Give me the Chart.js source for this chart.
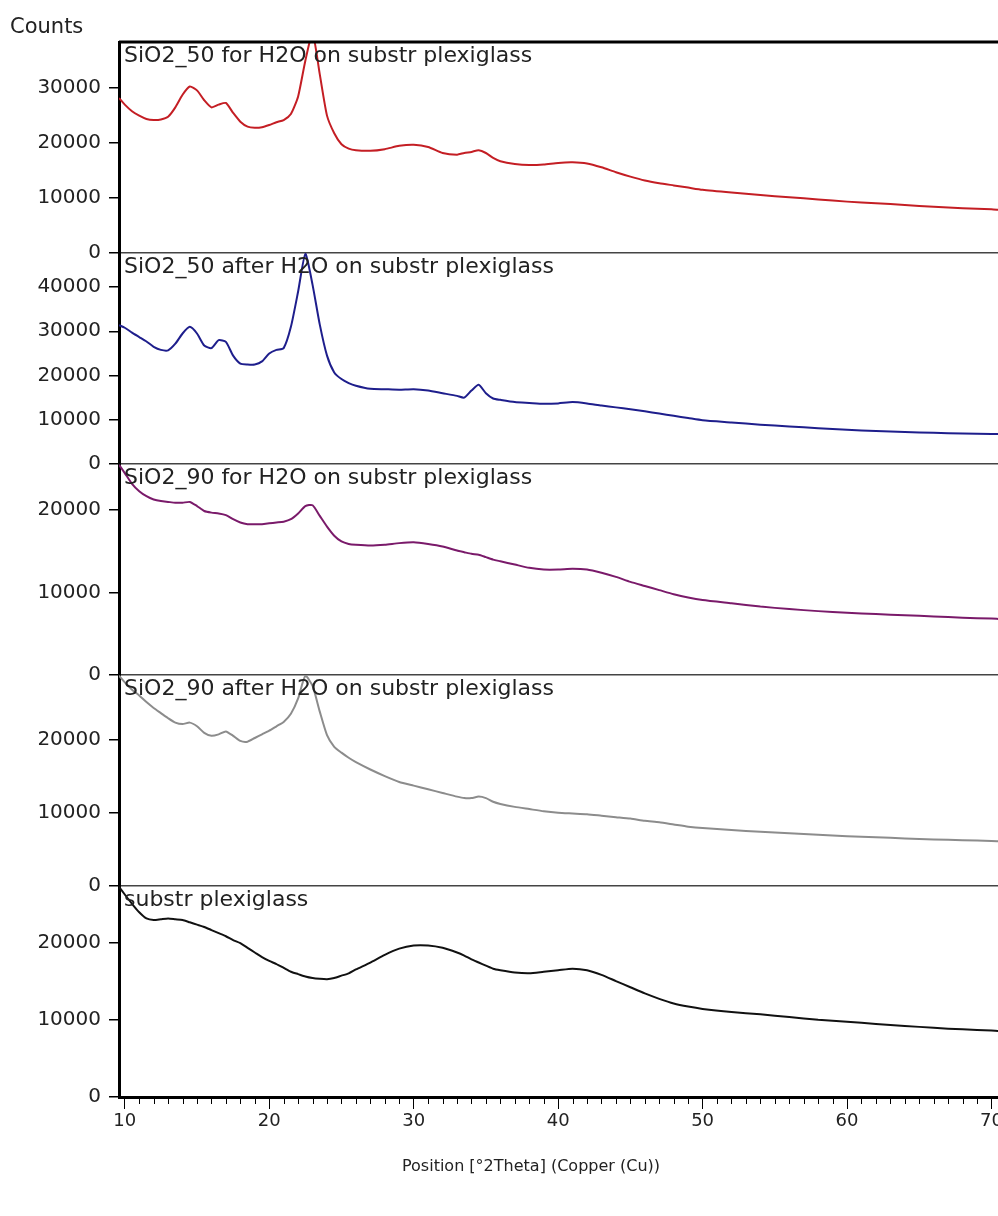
<!DOCTYPE html>
<html>
<head>
<meta charset="utf-8">
<script src="https://cdn.jsdelivr.net/npm/chart.js@4.4.1/dist/chart.umd.min.js"></script>
<style>
  html, body { margin: 0; padding: 0; background: #fff; }
  #grafica { display: block; }
</style>
</head>
<body>
<canvas id="grafica" width="998" height="1216"></canvas>
<script>
// --- DATOS ---
const posiciones = [9.6, 10, 10.5, 11, 11.5, 12, 12.5, 13, 13.5, 14, 14.5, 15, 15.5, 16, 16.5, 17, 17.5, 18, 18.5, 19, 19.5, 20, 20.5, 21, 21.5, 22, 22.5, 23, 23.5, 24, 24.5, 25, 25.5, 26, 27, 28, 29, 30, 31, 32, 33, 33.5, 34, 34.5, 35, 35.5, 36, 37, 38, 39, 40, 41, 42, 43, 44, 45, 46, 47, 48, 49, 50, 52, 54, 56, 58, 60, 62, 64, 66, 68, 70, 70.5];

const sio2_50_for = [28200, 27000, 25800, 25000, 24400, 24200, 24300, 24800, 26500, 28800, 30300, 29600, 27800, 26500, 27000, 27300, 25500, 23900, 23000, 22800, 22900, 23300, 23800, 24200, 25300, 28500, 35000, 40000, 32500, 25000, 21800, 19800, 19000, 18700, 18600, 18900, 19500, 19700, 19300, 18200, 17900, 18200, 18400, 18700, 18200, 17300, 16700, 16200, 16000, 16100, 16400, 16500, 16300, 15600, 14700, 13900, 13200, 12700, 12300, 11900, 11500, 11000, 10550, 10150, 9750, 9350, 9050, 8750, 8400, 8150, 7950, 7850];

const sio2_50_after = [31400, 30800, 29700, 28700, 27700, 26500, 25800, 25700, 27200, 29500, 31000, 29500, 26800, 26200, 28000, 27600, 24500, 22700, 22500, 22500, 23200, 25000, 25800, 26200, 31000, 39000, 47500, 40500, 31500, 24500, 20700, 19200, 18300, 17700, 17000, 16900, 16800, 16900, 16600, 16000, 15400, 15000, 16600, 17900, 16000, 14800, 14500, 14000, 13800, 13600, 13700, 14000, 13700, 13200, 12800, 12400, 11900, 11400, 10900, 10400, 9900, 9400, 8900, 8500, 8100, 7750, 7450, 7250, 7050, 6900, 6800, 6750];

const sio2_90_for = [25500, 24500, 23200, 22300, 21700, 21300, 21100, 21000, 20900, 20900, 21000, 20500, 19900, 19700, 19600, 19400, 18900, 18500, 18300, 18300, 18300, 18400, 18500, 18600, 18900, 19600, 20500, 20600, 19300, 18000, 16900, 16200, 15900, 15800, 15700, 15800, 16000, 16100, 15900, 15600, 15100, 14900, 14700, 14600, 14300, 14000, 13800, 13400, 13000, 12800, 12800, 12900, 12800, 12400, 11900, 11300, 10800, 10300, 9800, 9400, 9100, 8700, 8300, 8000, 7750, 7550, 7400, 7250, 7100, 6950, 6850, 6800];

const sio2_90_after = [28700, 27800, 26800, 26000, 25100, 24300, 23600, 22900, 22300, 22100, 22300, 21800, 20900, 20500, 20700, 21100, 20500, 19800, 19700, 20200, 20700, 21200, 21800, 22400, 23500, 25600, 28700, 27300, 23800, 20600, 19000, 18200, 17500, 16900, 15900, 15000, 14200, 13700, 13200, 12700, 12200, 12000, 12000, 12200, 12000, 11500, 11200, 10800, 10500, 10200, 10000, 9900, 9800, 9600, 9400, 9200, 8900, 8700, 8400, 8100, 7900, 7650, 7400, 7200, 7000, 6800, 6650, 6500, 6350, 6250, 6150, 6100];

const substr = [27200, 26200, 25000, 23900, 23100, 22900, 23000, 23100, 23000, 22900, 22600, 22300, 22000, 21600, 21200, 20800, 20300, 19900, 19300, 18700, 18100, 17600, 17200, 16700, 16200, 15900, 15600, 15400, 15300, 15250, 15400, 15700, 16000, 16500, 17400, 18400, 19200, 19600, 19600, 19300, 18700, 18300, 17800, 17400, 17000, 16600, 16400, 16100, 16000, 16200, 16400, 16600, 16400, 15800, 15000, 14200, 13400, 12700, 12100, 11700, 11400, 11000, 10700, 10350, 10000, 9750, 9450, 9200, 8950, 8750, 8600, 8550];

const etiquetas = [
  "SiO2_50 for H2O on substr plexiglass",
  "SiO2_50 after H2O on substr plexiglass",
  "SiO2_90 for H2O on substr plexiglass",
  "SiO2_90 after H2O on substr plexiglass",
  "substr plexiglass"
];
const series = [sio2_50_for, sio2_50_after, sio2_90_for, sio2_90_after, substr];
const maximos = [38400, 47700, 25600, 28800, 27300];
const ticksY = [
  [0, 10000, 20000, 30000],
  [0, 10000, 20000, 30000, 40000],
  [0, 10000, 20000],
  [0, 10000, 20000],
  [0, 10000, 20000]
];
const ticksX = [10, 20, 30, 40, 50, 60, 70];
const colores = ["#c41e24", "#1e1e8c", "#7a1a6a", "#8c8c8c", "#111111"];

const FUENTE = "'DejaVu Sans', Verdana, sans-serif";

// --- ESCALAS ---
const escalas = {
  x: {
    type: "linear",
    min: 9.6,
    max: 70.45,
    border: { color: "#000", width: 3 },
    grid: { drawOnChartArea: false, color: "#000", tickLength: 12 },
    ticks: {
      padding: 2,
      color: "#222",
      font: { family: FUENTE, size: 18 },
      maxRotation: 0,
      autoSkip: false
    },
    afterBuildTicks: s => { s.ticks = ticksX.map(v => ({ value: v })); },
    afterFit: s => { s.height = 119; s.paddingLeft = 0; s.paddingRight = 0; }
  }
};

// los paneles se apilan de abajo hacia arriba, por eso se recorren al reves
for (let i = series.length - 1; i >= 0; i--) {
  escalas["y" + i] = {
    type: "linear",
    position: "left",
    stack: "paneles",
    stackWeight: 1,
    min: 0,
    max: maximos[i],
    border: { color: "#000", width: 3 },
    grid: {
      color: c => (c.tick && c.tick.value === 0 ? "#444" : "rgba(0,0,0,0)"),
      lineWidth: 1.5,
      tickColor: "#000",
      tickLength: 10
    },
    ticks: {
      padding: 8,
      color: "#222",
      font: { family: FUENTE, size: 20 },
      autoSkip: false,
      callback: v => String(v)
    },
    afterBuildTicks: s => { s.ticks = ticksY[i].map(v => ({ value: v })); },
    afterFit: s => { s.width = 119; }
  };
}

// --- TEXTOS Y MARCAS MENORES ---
const extras = {
  id: "extras",
  afterDraw(chart) {
    const ctx = chart.ctx;
    const area = chart.chartArea;
    const sx = chart.scales.x;
    ctx.save();

    // borde superior
    ctx.strokeStyle = "#000";
    ctx.lineWidth = 3;
    ctx.beginPath();
    ctx.moveTo(area.left, area.top);
    ctx.lineTo(area.right, area.top);
    ctx.stroke();

    // marcas menores del eje x
    ctx.lineWidth = 1;
    for (let v = 10; v <= 70; v++) {
      if (v % 10 === 0) continue;
      const px = Math.round(sx.getPixelForValue(v)) + 0.5;
      ctx.beginPath();
      ctx.moveTo(px, area.bottom);
      ctx.lineTo(px, area.bottom + 7);
      ctx.stroke();
    }

    ctx.fillStyle = "#222";
    ctx.textBaseline = "top";
    ctx.textAlign = "left";
    ctx.font = "22px " + FUENTE;
    etiquetas.forEach((t, i) => {
      const sy = chart.scales["y" + i];
      ctx.fillText(t, area.left + 5, sy.top + 3);
    });

    ctx.textBaseline = "middle";
    ctx.font = "21px " + FUENTE;
    ctx.fillText("Counts", 10, 28);

    ctx.textAlign = "center";
    ctx.font = "16px " + FUENTE;
    ctx.fillText("Position [\u00b02Theta] (Copper (Cu))", 531, 1167);
    ctx.restore();
  }
};

new Chart(document.getElementById("grafica"), {
  type: "line",
  data: {
    datasets: series.map((s, i) => ({
      label: etiquetas[i],
      data: posiciones.map((p, k) => ({ x: p, y: s[k] })),
      yAxisID: "y" + i,
      borderColor: colores[i],
      borderWidth: 2,
      pointRadius: 0,
      tension: 0.2,
      fill: false
    }))
  },
  options: {
    responsive: false,
    animation: false,
    devicePixelRatio: 1,
    layout: { padding: { top: 42, left: 0, right: 0, bottom: 0 } },
    scales: escalas,
    plugins: {
      legend: { display: false },
      tooltip: { enabled: false }
    }
  },
  plugins: [extras]
});
</script>
</body>
</html>
